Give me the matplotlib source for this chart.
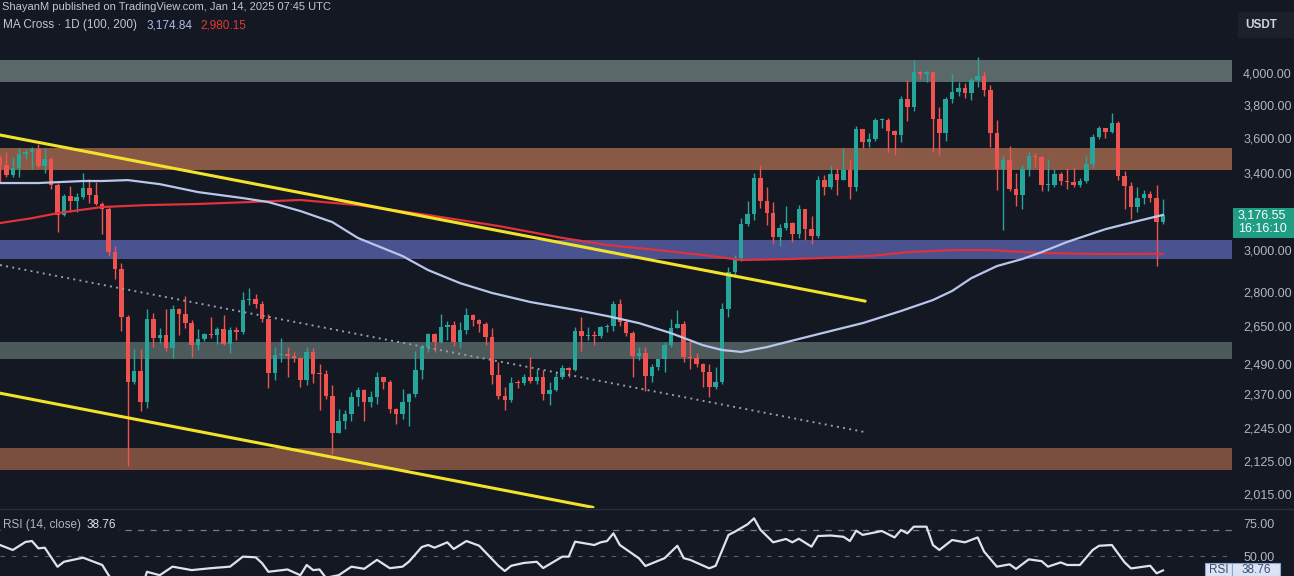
import matplotlib
matplotlib.use("Agg")
import matplotlib.pyplot as plt
from matplotlib.patches import Rectangle
from matplotlib.ticker import NullLocator, FixedLocator, FixedFormatter

# ---------------------------------------------------------------------------
# ETH/USDT daily candles, 2024-07-16 .. 2025-01-14 (183 sessions)
# ---------------------------------------------------------------------------
first_open = 3484
closes = [
    3444, 3388, 3425, 3504, 3518, 3537, 3440, 3480, 3336, 3175, 3275, 3250, 3270, 3319, 3280, 3231,
    3205, 2990, 2905, 2688, 2419, 2461, 2342, 2682, 2599, 2610, 2555, 2722, 2703, 2662, 2569, 2592,
    2615, 2612, 2636, 2573, 2631, 2623, 2763, 2768, 2747, 2682, 2456, 2528, 2529, 2525, 2513,
    2425, 2538, 2451, 2449, 2366, 2226, 2270, 2297, 2359, 2387, 2340, 2361, 2439, 2418, 2315,
    2295, 2340, 2370, 2466, 2562, 2614, 2581, 2645, 2653, 2582, 2632, 2696, 2677, 2658, 2602,
    2448, 2364, 2350, 2415, 2414, 2440, 2422, 2440, 2370, 2386, 2438, 2475, 2468, 2628, 2606,
    2613, 2605, 2645, 2648, 2748, 2667, 2620, 2525, 2537, 2443, 2480, 2509, 2568, 2640, 2660, 2520,
    2515, 2490, 2458, 2400, 2420, 2723, 2895, 2962, 3127, 3180, 3370, 3245, 3187, 3063, 3108,
    3132, 3077, 3208, 3105, 3069, 3358, 3325, 3395, 3362, 3413, 3323, 3649, 3577, 3593, 3704,
    3707, 3642, 3615, 3836, 3785, 4005, 3996, 4006, 3713, 3628, 3833, 3880, 3905, 3873, 3957,
    3983, 3888, 3625, 3419, 3470, 3314, 3278, 3419, 3495, 3486, 3332, 3332, 3393, 3357, 3350, 3332,
    3354, 3452, 3605, 3657, 3634, 3687, 3380, 3327, 3218, 3266, 3283, 3266, 3137, 3176.55,
]
highs = [
    3498, 3517, 3487, 3540, 3537, 3545, 3563, 3541, 3487, 3344, 3287, 3329, 3290, 3397, 3365, 3350,
    3242, 3220, 3017, 2937, 2698, 2554, 2552, 2722, 2708, 2642, 2722, 2740, 2729, 2780, 2677, 2638,
    2620, 2689, 2647, 2697, 2647, 2645, 2800, 2820, 2793, 2760, 2700, 2560, 2600, 2560, 2538,
    2520, 2560, 2555, 2490, 2465, 2407, 2315, 2310, 2380, 2400, 2390, 2383, 2460, 2440, 2425,
    2317, 2390, 2375, 2545, 2570, 2620, 2620, 2700, 2670, 2672, 2665, 2728, 2703, 2680, 2665,
    2640, 2500, 2400, 2440, 2427, 2450, 2520, 2470, 2465, 2417, 2460, 2485, 2480, 2645, 2690,
    2645, 2630, 2650, 2656, 2759, 2770, 2680, 2630, 2560, 2560, 2490, 2510, 2580, 2680, 2720, 2670,
    2585, 2535, 2495, 2490, 2480, 2750, 2915, 2975, 3160, 3250, 3400, 3445, 3325, 3240, 3130,
    3220, 3140, 3225, 3190, 3170, 3380, 3390, 3445, 3428, 3540, 3480, 3670, 3650, 3630, 3720,
    3720, 3720, 3645, 3850, 3955, 4083, 4015, 4010, 4011, 3787, 3845, 3992, 3945, 3935, 3970,
    4107, 4015, 3925, 3705, 3495, 3550, 3400, 3445, 3520, 3512, 3495, 3475, 3420, 3405, 3425, 3430,
    3370, 3495, 3620, 3670, 3660, 3745, 3702, 3412, 3350, 3320, 3305, 3300, 3335, 3260,
]
lows = [
    3350, 3375, 3375, 3375, 3480, 3420, 3425, 3400, 3310, 3087, 3170, 3192, 3192, 3260, 3237, 3225,
    3080, 2970, 2860, 2630, 2111, 2410, 2308, 2320, 2560, 2578, 2545, 2517, 2612, 2640, 2519, 2550,
    2585, 2598, 2573, 2570, 2535, 2590, 2615, 2742, 2730, 2665, 2395, 2425, 2500, 2438, 2500,
    2400, 2405, 2415, 2310, 2351, 2150, 2225, 2240, 2270, 2325, 2270, 2321, 2334, 2390, 2300,
    2258, 2277, 2252, 2362, 2430, 2540, 2540, 2578, 2590, 2565, 2555, 2617, 2650, 2625, 2570,
    2410, 2352, 2310, 2340, 2395, 2405, 2414, 2410, 2350, 2330, 2382, 2430, 2440, 2464, 2545,
    2590, 2570, 2600, 2625, 2630, 2650, 2605, 2440, 2505, 2385, 2420, 2465, 2460, 2560, 2640, 2500,
    2470, 2480, 2400, 2360, 2390, 2410, 2690, 2870, 2945, 3120, 3150, 3210, 3125, 3030, 3020,
    3100, 3040, 3060, 3050, 3030, 3060, 3280, 3310, 3280, 3360, 3260, 3300, 3540, 3545, 3580,
    3655, 3520, 3500, 3575, 3700, 3760, 3960, 3940, 3515, 3500, 3580, 3808, 3850, 3840, 3830,
    3910, 3850, 3545, 3305, 3100, 3300, 3220, 3205, 3385, 3430, 3300, 3300, 3325, 3335, 3310, 3320,
    3320, 3345, 3425, 3590, 3600, 3628, 3358, 3207, 3155, 3190, 3230, 3240, 2920, 3130,
]
opens = [first_open] + closes[:-1]   # 24/7 market: each day opens at the prior close

# Moving averages (day index, value)
ma100_day = [0, 6, 13, 16, 20, 25, 31, 38, 42, 47, 52, 56, 63, 67, 72, 77, 83, 91, 95, 100, 105,
             110, 113, 116, 120, 125, 130, 135, 141, 146, 149, 152, 156, 160, 163, 167, 173, 178, 182]
ma100_val = [3344, 3344, 3355, 3355, 3360, 3338, 3295, 3263, 3242, 3195, 3138, 3058, 2969, 2902,
             2841, 2796, 2755, 2715, 2693, 2662, 2619, 2568, 2548, 2540, 2560, 2594, 2628, 2662,
             2715, 2764, 2805, 2864, 2921, 2955, 2988, 3038, 3102, 3143, 3174.84]
ma200_day = [0, 5, 9, 16, 23, 31, 39, 47, 56, 67, 78, 88, 95, 103, 110, 116, 124, 129, 136, 142,
             149, 155, 163, 172, 182]
ma200_val = [3133, 3158, 3184, 3216, 3226, 3232, 3242, 3253, 3226, 3174, 3118, 3058, 3023, 2998,
             2974, 2950, 2955, 2960, 2969, 2988, 2998, 2998, 2984, 2979, 2980.15]

# RSI(14) readings (day index, value)
rsi_day = [0, 2, 4, 5, 6, 7, 9, 10, 13, 16, 17, 18, 19, 20, 21, 22, 23, 25, 27, 30, 33, 36, 38, 40,
           41, 42, 45, 47, 48, 49, 50, 51, 53, 55, 57, 59, 61, 63, 64, 66, 67, 68, 70, 71, 73, 75,
           78, 79, 80, 82, 84, 85, 88, 89, 90, 93, 94, 95, 96, 97, 100, 101, 104, 106, 107, 108,
           111, 112, 114, 115, 117, 118, 119, 121, 123, 124, 125, 127, 128, 130, 132, 133, 134,
           135, 138, 140, 141, 142, 143, 145, 146, 147, 149, 151, 153, 154, 156, 158, 159, 161,
           163, 164, 166, 167, 169, 171, 172, 174, 176, 177, 180, 181, 182]
rsi_val = [58.6, 54.7, 61.0, 61.7, 56.0, 56.5, 41.6, 45.5, 48.7, 43.0, 35.0, 29.0, 25.0, 20.0, 24.0,
           22.0, 37.7, 35.0, 41.7, 39.0, 40.5, 41.7, 49.5, 49.0, 44.5, 37.7, 39.5, 35.0, 43.0, 39.0,
           39.5, 33.0, 35.0, 41.7, 40.0, 47.0, 40.5, 41.7, 45.6, 57.0, 58.6, 56.5, 60.7, 55.5, 61.7,
           58.0, 42.4, 38.3, 42.4, 44.6, 45.5, 40.6, 49.5, 49.5, 61.2, 58.6, 60.7, 61.7, 67.7, 58.6,
           48.2, 42.2, 48.3, 58.0, 48.3, 47.0, 40.4, 42.4, 66.4, 69.0, 74.8, 79.4, 70.5, 60.7, 63.3,
           60.7, 63.5, 57.3, 65.6, 66.0, 65.0, 61.7, 69.8, 66.5, 69.5, 64.5, 70.3, 67.7, 72.9, 72.9,
           58.6, 54.7, 62.5, 60.7, 64.5, 53.5, 41.7, 43.5, 39.9, 47.4, 46.0, 41.7, 45.0, 43.0, 43.0,
           54.7, 58.0, 58.6, 45.0, 40.3, 42.4, 36.5, 38.76]

# Horizontal supply / demand zones (low, high)
zone_low = [3942, 3416, 2955, 2510, 2095]
zone_high = [4086, 3540, 3049, 2581, 2172]
zone_color = ["#5b6869", "#8a5946", "#4a5290", "#4d5a5c", "#7b4f40"]

# Trend lines (day index, price)
upper_trend_day, upper_trend_px = [0, 135.4], [3616, 2759]
lower_trend_day, lower_trend_px = [0, 92.8], [2375, 1972]
mid_trend_day, mid_trend_px = [0, 135.4], [2926, 2229]

price_ticks = [4000, 3800, 3600, 3400, 3000, 2800, 2650, 2490, 2370, 2245, 2125, 2015]
rsi_ticks = [75, 50]

# ---------------------------------------------------------------------------
W, H, DPI = 1294, 576, 100
BG = "#141822"
UP, DOWN = "#26a69a", "#ef5350"
AXIS_TXT = "#b2b5be"
FONT = "Liberation Sans"

plt.rcParams["font.family"] = [FONT, "DejaVu Sans"]

fig = plt.figure(figsize=(W / DPI, H / DPI), dpi=DPI, facecolor=BG)


def fx(x):
    return x / W


def fy(y):
    return 1 - y / H


PLOT_R = 1232
ax = fig.add_axes([0, fy(508), fx(PLOT_R), 508 / H])
ax_rsi = fig.add_axes([0, 0, fx(PLOT_R), 67 / H])

for a in (ax, ax_rsi):
    a.set_facecolor(BG)
    for s in a.spines.values():
        s.set_visible(False)
    a.set_xticks([])
    a.yaxis.tick_right()
    a.tick_params(axis="y", length=0, pad=8, labelcolor=AXIS_TXT, labelsize=9)
    a.set_xlim(0, PLOT_R / 6.39)

# --- price panel ---------------------------------------------------------
ax.set_yscale("log")
ax.set_ylim(1970, 4505)
ax.yaxis.set_major_locator(FixedLocator(price_ticks))
ax.yaxis.set_major_formatter(FixedFormatter([f"{t:,.2f}" for t in price_ticks]))
ax.yaxis.set_minor_locator(NullLocator())

xmax = PLOT_R / 6.39
for lo, hi, col in zip(zone_low, zone_high, zone_color):
    ax.fill_between([0, xmax], lo, hi, color=col, lw=0, zorder=1)

days = list(range(len(closes)))
colors = [UP if c >= o else DOWN for o, c in zip(opens, closes)]
ax.vlines(days, lows, highs, colors=colors, lw=1.0, zorder=3)
bottoms = [min(o, c) for o, c in zip(opens, closes)]
heights = [max(abs(c - o), b * 0.002) for o, c, b in zip(opens, closes, bottoms)]
ax.bar(days, heights, bottom=bottoms, width=0.7, color=colors, lw=0, zorder=3)

ax.plot(mid_trend_day, mid_trend_px, color="#9a9ea8", lw=1.4, ls=(0, (1.0, 2.2)), zorder=4)
ax.plot(ma200_day, ma200_val, color="#e0313c", lw=1.6, zorder=5,
        solid_capstyle="round", solid_joinstyle="round")
ax.plot(ma100_day, ma100_val, color="#b9c6ec", lw=1.6, zorder=5,
        solid_capstyle="round", solid_joinstyle="round")
ax.plot(upper_trend_day, upper_trend_px, color="#f3e22a", lw=2.2, zorder=6, solid_capstyle="round")
ax.plot(lower_trend_day, lower_trend_px, color="#f3e22a", lw=2.2, zorder=6, solid_capstyle="round")

# --- RSI panel -----------------------------------------------------------
ax_rsi.set_ylim(34.4, 86.7)
ax_rsi.yaxis.set_major_locator(FixedLocator(rsi_ticks))
ax_rsi.yaxis.set_major_formatter(FixedFormatter([f"{t:.2f}" for t in rsi_ticks]))
ax_rsi.axhline(70, color="#787b86", lw=0.9, ls=(0, (5, 5)), zorder=1)
ax_rsi.axhline(50, color="#5d606b", lw=0.8, ls=(0, (4, 6)), zorder=1)
ax_rsi.plot(rsi_day, rsi_val, color="#dfe2ea", lw=1.6, zorder=3, solid_joinstyle="round")

# panel separator
fig.add_artist(plt.Line2D([0, 1], [fy(508.5), fy(508.5)], color="#2a2e39", lw=1.0,
                          transform=fig.transFigure))

# --- header texts -------------------------------------------------------
fig.text(fx(2), fy(7), "ShayanM published on TradingView.com, Jan 14, 2025 07:45 UTC",
         color="#c3c6ce", fontsize=8, va="center", ha="left")
fig.text(fx(3), fy(25), "MA Cross · 1D (100, 200)", color="#c3c6ce", fontsize=8.5,
         va="center", ha="left")
fig.text(fx(147), fy(25), f"{ma100_val[-1]:,.2f}", color="#aebde8", fontsize=8.5,
         va="center", ha="left")
fig.text(fx(200), fy(25), f"{ma200_val[-1]:,.2f}", color="#e53935", fontsize=8.5,
         va="center", ha="left")

fig.text(fx(3), fy(525), "RSI (14, close)", color="#b2b5be", fontsize=8.5, va="center",
         ha="left", bbox=dict(facecolor=BG, edgecolor="none", pad=1.5))
fig.text(fx(87), fy(525), f"{rsi_val[-1]:.2f}", color="#dfe2ea", fontsize=8.5, va="center",
         ha="left", bbox=dict(facecolor=BG, edgecolor="none", pad=1.5))

# --- price scale badges -------------------------------------------------
fig.add_artist(Rectangle((fx(1238), fy(38)), 56 / W, 26 / H, transform=fig.transFigure,
                         facecolor="#1c202b", edgecolor="none"))
fig.text(fx(1245), fy(25), "USDT", color="#d1d4dc", fontsize=8.5, fontweight="bold",
         va="center", ha="left")

fig.add_artist(Rectangle((fx(1233), fy(238)), 61 / W, 30 / H, transform=fig.transFigure,
                         facecolor="#1f9e84", edgecolor="none", zorder=10))
fig.text(fx(1238), fy(216), f"{closes[-1]:,.2f}", color="white", fontsize=9, va="center",
         ha="left", zorder=11)
fig.text(fx(1238), fy(229), "16:16:10", color="white", fontsize=9, va="center",
         ha="left", zorder=11)

fig.add_artist(Rectangle((fx(1205), fy(576)), 27 / W, 13 / H, transform=fig.transFigure,
                         facecolor="#dbe4f5", edgecolor="#8aa6d8", lw=0.8, zorder=10))
fig.add_artist(Rectangle((fx(1232), fy(576)), 48 / W, 13 / H, transform=fig.transFigure,
                         facecolor="#dbe4f5", edgecolor="#8aa6d8", lw=0.8, zorder=10))
fig.text(fx(1218.5), fy(570), "RSI", color="#3b4b6e", fontsize=8.5, va="center",
         ha="center", zorder=11)
fig.text(fx(1256), fy(570), f"{rsi_val[-1]:.2f}", color="#3b4b6e", fontsize=8.5,
         va="center", ha="center", zorder=11)

fig.savefig("out.png", dpi=DPI, facecolor=BG)
